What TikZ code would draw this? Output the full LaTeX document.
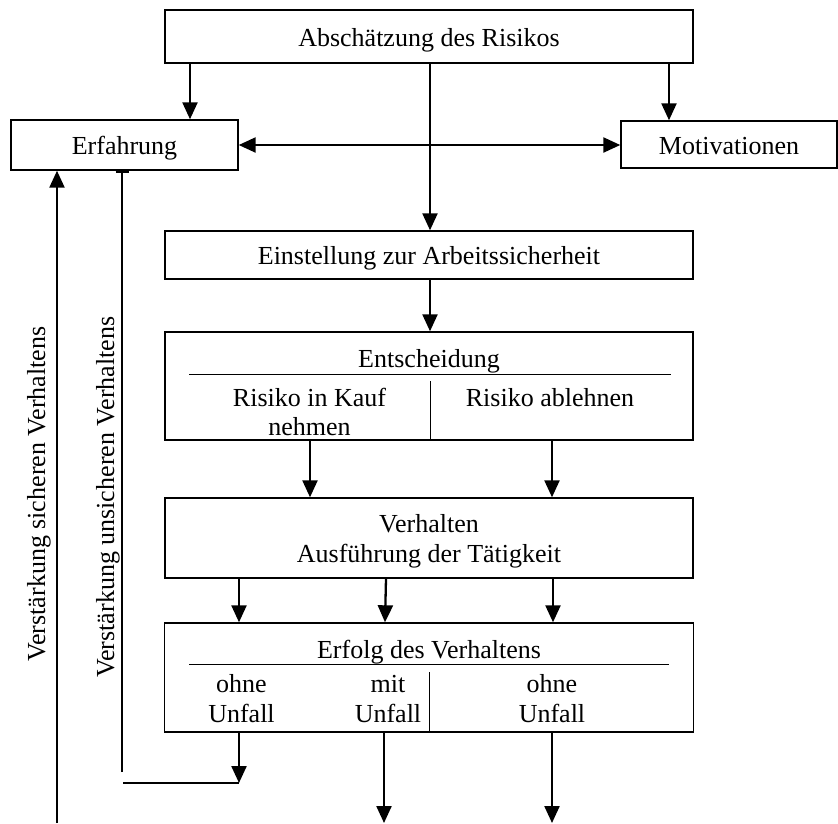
\documentclass[tikz,border=0pt]{standalone}
\usepackage{fontspec}
\setmainfont{Liberation Serif}
\usetikzlibrary{arrows.meta}

\begin{document}
\begin{tikzpicture}[x=1pt, y=-1pt,
            every node/.style = {font=\fontsize{26}{30}\selectfont, inner sep=0pt},
            kasten/.style = {shape=rectangle, draw, line width=1.4pt,
                             minimum width=528pt, text height=19pt, text depth=0pt},
            zeile/.style = {anchor=base},
            pfeil/.style = {line width=2.3pt, -{Triangle[length=17pt,width=15pt]}},
            linie/.style = {line width=1pt}]
    \useasboundingbox (0,0) rectangle (838,823);
    % Kaesten
    \node[kasten, minimum height=53pt] (risiko) at (429,36.5) {Abschätzung des Risikos};
    \node[kasten, minimum width=227pt, minimum height=50pt] (erfahrung) at (124.5,145) {Erfahrung};
    \node[kasten, minimum width=216pt, minimum height=47pt] (motiv) at (729,144.5) {Motivationen};
    \node[kasten, minimum height=48pt] (einstellung) at (429,255) {Einstellung zur Arbeitssicherheit};
    \node[kasten, minimum height=108pt] (entscheidung) at (429,386) {};
    \node[kasten, minimum height=80pt] (verhalten) at (429,538) {};
    \node[kasten, minimum width=529pt, minimum height=109pt] (erfolg) at (429,677.5) {};
    % Texte in den Kaesten
    \node[zeile] (entsch) at (429,367) {Entscheidung};
    \node[zeile] (kauf1) at (309.5,406) {Risiko in Kauf};
    \node[zeile] (kauf2) at (309.5,435) {nehmen};
    \node[zeile] (ablehnen) at (550,406) {Risiko ablehnen};
    \node[zeile] (verh1) at (429,532) {Verhalten};
    \node[zeile] (verh2) at (429,562) {Ausführung der Tätigkeit};
    \node[zeile] (erfolgtxt) at (429,658) {Erfolg des Verhaltens};
    \node[zeile] (ohne1) at (241.5,692) {ohne};
    \node[zeile] (unfall1) at (241.5,722) {Unfall};
    \node[zeile] (mit) at (388,692) {mit};
    \node[zeile] (unfall2) at (388,722) {Unfall};
    \node[zeile] (ohne2) at (552,692) {ohne};
    \node[zeile] (unfall3) at (552,722) {Unfall};
    \draw[linie] (189,374) -- (671,374);
    \draw[linie] (entscheidung.south -| 430,0) -- (430,381);
    \draw[linie] (189,664) -- (669,664);
    \draw[linie] (erfolg.south -| 429,0) -- (429,672);
    % seitliche Beschriftung
    \node[rotate=90, anchor=base] (sicher) at (45,494) {Verstärkung sicheren Verhaltens};
    \node[rotate=90, anchor=base] (unsicher) at (114,497) {Verstärkung unsicheren Verhaltens};
    % freie Enden
    \coordinate (ende0) at (57,823);
    \coordinate (ende1) at (384,823);
    \coordinate (ende2) at (552,823);
    \coordinate (knick) at (239,783);
    \coordinate (rueck) at (122,772);
    % Pfeile
    \draw[pfeil] (risiko.south -| 190,0) -- (erfahrung.north -| 190,0);
    \draw[pfeil] (risiko.south -| 669,0) -- (motiv.north -| 669,0);
    \draw[pfeil] (risiko.south -| 430,0) -- (einstellung.north -| 430,0);
    \draw[line width=2.3pt, {Triangle[length=17pt,width=15pt]}-{Triangle[length=17pt,width=15pt]}]
        (erfahrung.east) -- (motiv.west |- erfahrung.east);
    \draw[pfeil] (einstellung.south -| 430,0) -- (entscheidung.north -| 430,0);
    \draw[pfeil] (entscheidung.south -| 310,0) -- (verhalten.north -| 310,0);
    \draw[pfeil] (entscheidung.south -| 552,0) -- (verhalten.north -| 552,0);
    \draw[pfeil] (verhalten.south -| 239,0) -- (erfolg.north -| 239,0);
    \draw[pfeil] (verhalten.south -| 386,0) -- (erfolg.north -| 385,0);
    \draw[pfeil] (verhalten.south -| 553,0) -- (erfolg.north -| 553,0);
    \draw[pfeil] (erfolg.south -| knick) -- (knick);
    \draw[pfeil] (erfolg.south -| ende1) -- (ende1);
    \draw[pfeil] (erfolg.south -| ende2) -- (ende2);
    \draw[linie, line width=1.4pt] (knick) -- (123,783);
    \draw[line width=2pt, -{Bar[width=13pt]}] (rueck) -- (erfahrung.south -| rueck);
    \draw[pfeil] (ende0) -- (erfahrung.south -| ende0);
\end{tikzpicture}
\end{document}
